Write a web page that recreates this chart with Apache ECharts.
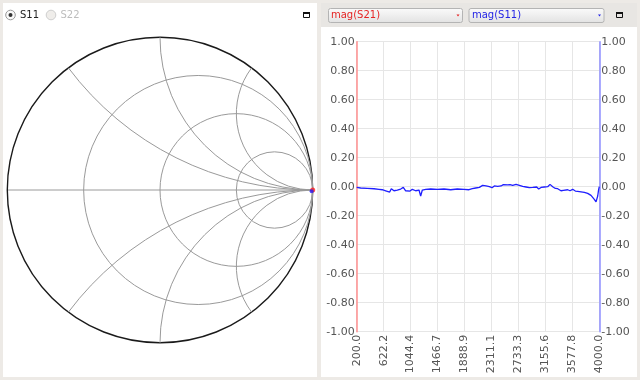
<!DOCTYPE html>
<html>
<head>
<meta charset="utf-8">
<script src="https://cdn.jsdelivr.net/npm/echarts@6/dist/echarts.min.js"></script>
<style>
html,body{margin:0;padding:0;background:#edeae6;}
#c{width:640px;height:380px;}
</style>
</head>
<body>
<div id="c"></div>
<script>
// ---- data ----
const smithR = [0.3333, 1, 3];          // constant-resistance circles
const smithX = [0.5, 1, 2];             // constant-reactance arcs (both signs)
const s11Start = [[1.0, 0.0]];          // Smith marker (red)
const s11End = [[0.993, -0.008]];       // Smith marker (blue)
const xTicks = [200.0, 622.2, 1044.4, 1466.7, 1888.9, 2311.1, 2733.3, 3155.6, 3577.8, 4000.0];
const freq = [200, 262, 366, 471, 549, 601, 654, 680, 717, 742, 784, 836, 889, 930, 967, 993, 1035, 1071, 1124, 1176, 1202, 1228, 1281, 1359, 1463, 1567, 1672, 1776, 1881, 1959, 2011, 2064, 2121, 2173, 2226, 2278, 2320, 2356, 2408, 2461, 2497, 2528, 2565, 2602, 2643, 2696, 2748, 2800, 2852, 2904, 2957, 2983, 3019, 3051, 3087, 3139, 3192, 3228, 3270, 3312, 3348, 3400, 3437, 3468, 3505, 3541, 3583, 3625, 3661, 3714, 3766, 3818, 3870, 3922, 3949, 3975, 3990, 4000];
const magS11 = [-0.005, -0.009, -0.011, -0.014, -0.018, -0.021, -0.028, -0.018, -0.037, -0.014, -0.028, -0.023, -0.016, -0.005, -0.028, -0.018, -0.030, -0.018, -0.028, -0.023, -0.065, -0.023, -0.018, -0.016, -0.018, -0.016, -0.021, -0.016, -0.018, -0.021, -0.014, -0.009, -0.005, 0.009, 0.005, 0.000, -0.007, 0.005, 0.002, 0.005, 0.014, 0.005, 0.012, 0.014, 0.009, 0.016, 0.009, 0.002, -0.002, -0.007, -0.005, -0.014, -0.002, -0.016, -0.005, -0.002, 0.000, 0.016, 0.000, -0.012, -0.014, -0.028, -0.025, -0.032, -0.021, -0.028, -0.018, -0.030, -0.032, -0.035, -0.039, -0.046, -0.060, -0.087, -0.105, -0.064, -0.018, 0.000];
const yLabelsMin = -1, yLabelsMax = 1, yStep = 0.2;

const FONT = 'DejaVu Sans';
const GRIDC = '#9a9a9a';

function rItem(params, api) {
  const r = api.value(0);
  const c = api.coord([r / (1 + r), 0]);
  const rad = api.size([1 / (1 + r), 0])[0];
  return {type: 'circle', shape: {cx: c[0], cy: c[1], r: rad},
    style: {fill: 'none', stroke: GRIDC, lineWidth: 1}};
}
function xItem(params, api) {
  const x = api.value(0), s = api.value(1);
  const C = api.coord([1, s / x]);
  const rad = api.size([1 / x, 0])[0];
  const P = api.coord([(x * x - 1) / (x * x + 1), s * 2 * x / (x * x + 1)]);
  const E = api.coord([1, 0]);
  const a1 = Math.atan2(P[1] - C[1], P[0] - C[0]);
  const a2 = Math.atan2(E[1] - C[1], E[0] - C[0]);
  let d = a2 - a1;
  while (d > Math.PI) d -= 2 * Math.PI;
  while (d < -Math.PI) d += 2 * Math.PI;
  return {type: 'arc', shape: {cx: C[0], cy: C[1], r: rad, startAngle: a1, endAngle: a1 + d, clockwise: d > 0},
    style: {fill: 'none', stroke: GRIDC, lineWidth: 1}};
}
function outerItem(params, api) {
  const c = api.coord([0, 0]);
  const rad = api.size([1, 0])[0];
  return {type: 'group', children: [
    {type: 'line', shape: {x1: c[0] - rad, y1: c[1], x2: c[0] + rad, y2: c[1]}, style: {stroke: GRIDC, lineWidth: 1}},
    {type: 'circle', shape: {cx: c[0], cy: c[1], r: rad}, style: {fill: 'none', stroke: '#1a1a1a', lineWidth: 1.4}}
  ]};
}

const xData = [];
smithX.forEach(x => { xData.push([x, 1]); xData.push([x, -1]); });

function comboGrad() {
  return new echarts.graphic.LinearGradient(0, 0, 0, 1, [{offset: 0, color: '#fbfbfb'}, {offset: 1, color: '#e2e2e2'}]);
}

const chart = echarts.init(document.getElementById('c'), null, {renderer: 'canvas'});
chart.setOption({
  backgroundColor: '#edeae6',
  animation: false,
  graphic: {elements: [
    {type: 'rect', z: -100, shape: {x: 3, y: 3, width: 314, height: 374}, style: {fill: '#ffffff'}},
    {type: 'rect', z: -100, shape: {x: 321, y: 3, width: 316, height: 24}, style: {fill: '#e8e6e3'}},
    {type: 'rect', z: -100, shape: {x: 321, y: 27, width: 316, height: 350}, style: {fill: '#ffffff'}},
    // radio S11
    {type: 'circle', shape: {cx: 10.5, cy: 15, r: 4.8}, style: {fill: '#fafafa', stroke: '#999', lineWidth: 1}},
    {type: 'circle', shape: {cx: 10.5, cy: 15, r: 2}, style: {fill: '#333'}},
    {type: 'text', x: 20, y: 15.5, style: {text: 'S11', fill: '#222', font: '10px ' + FONT, verticalAlign: 'middle'}},
    // radio S22
    {type: 'circle', shape: {cx: 51, cy: 15, r: 4.8}, style: {fill: '#efedea', stroke: '#cfcfcf', lineWidth: 1}},
    {type: 'text', x: 60.5, y: 15.5, style: {text: 'S22', fill: '#bdbdbd', font: '10px ' + FONT, verticalAlign: 'middle'}},
    // left maximize icon
    {type: 'rect', shape: {x: 303.5, y: 12.5, width: 6, height: 5}, style: {fill: 'none', stroke: '#111', lineWidth: 1}},
    {type: 'rect', shape: {x: 303, y: 12, width: 7, height: 2}, style: {fill: '#111'}},
    // combo 1
    {type: 'rect', shape: {x: 328.5, y: 8.5, width: 134, height: 14, r: 2}, style: {fill: comboGrad(), stroke: '#b4b4b4', lineWidth: 1}},
    {type: 'text', x: 331, y: 15.5, style: {text: 'mag(S21)', fill: '#e52424', font: '10px ' + FONT, verticalAlign: 'middle'}},
    {type: 'polygon', shape: {points: [[456.5, 14.5], [459.5, 14.5], [458, 16.5]]}, style: {fill: '#e52424'}},
    // combo 2
    {type: 'rect', shape: {x: 469, y: 8.5, width: 135, height: 14, r: 2}, style: {fill: comboGrad(), stroke: '#b4b4b4', lineWidth: 1}},
    {type: 'text', x: 472, y: 15.5, style: {text: 'mag(S11)', fill: '#2424e5', font: '10px ' + FONT, verticalAlign: 'middle'}},
    {type: 'polygon', shape: {points: [[598, 14.5], [601, 14.5], [599.5, 16.5]]}, style: {fill: '#2424e5'}},
    // right maximize icon
    {type: 'rect', shape: {x: 616.5, y: 12.5, width: 6, height: 5}, style: {fill: 'none', stroke: '#111', lineWidth: 1}},
    {type: 'rect', shape: {x: 616, y: 12, width: 7, height: 2}, style: {fill: '#111'}}
  ]},
  grid: [
    {left: 7.3, top: 37.3, width: 305.4, height: 305.4, containLabel: false},
    {left: 356.7, top: 41.7, width: 242.6, height: 290, containLabel: false}
  ],
  xAxis: [
    {gridIndex: 0, type: 'value', min: -1, max: 1, show: false},
    {gridIndex: 1, type: 'value', min: 200, max: 4000,
      axisLine: {show: false}, axisTick: {show: false, customValues: xTicks},
      splitLine: {show: true, lineStyle: {color: '#e6e6e6', width: 1}},
      axisLabel: {customValues: xTicks, rotate: 90, margin: 3, color: '#555', fontFamily: FONT, fontSize: 11,
        formatter: v => Number(v).toFixed(1)}}
  ],
  yAxis: [
    {gridIndex: 0, type: 'value', min: -1, max: 1, show: false},
    {gridIndex: 1, type: 'value', min: yLabelsMin, max: yLabelsMax, interval: yStep, position: 'left',
      axisLine: {show: true, lineStyle: {color: '#ff8f8f', width: 1.5}}, axisTick: {show: false},
      splitLine: {show: true, lineStyle: {color: '#e6e6e6', width: 1}},
      axisLabel: {margin: 2, color: '#555', fontFamily: FONT, fontSize: 11, formatter: v => v.toFixed(2)}},
    {gridIndex: 1, type: 'value', min: yLabelsMin, max: yLabelsMax, interval: yStep, position: 'right',
      axisLine: {show: true, lineStyle: {color: '#8f8fff', width: 1.5}}, axisTick: {show: false},
      splitLine: {show: false},
      axisLabel: {margin: 2, color: '#555', fontFamily: FONT, fontSize: 11, formatter: v => v.toFixed(2)}}
  ],
  series: [
    {type: 'custom', xAxisIndex: 0, yAxisIndex: 0, data: [[0]], renderItem: outerItem, silent: true},
    {type: 'custom', xAxisIndex: 0, yAxisIndex: 0, data: smithR.map(r => [r]), renderItem: rItem, silent: true},
    {type: 'custom', xAxisIndex: 0, yAxisIndex: 0, data: xData, renderItem: xItem, silent: true},
    {type: 'scatter', xAxisIndex: 0, yAxisIndex: 0, data: s11Start, symbolSize: 5, itemStyle: {color: '#ff2020'}, z: 5},
    {type: 'scatter', xAxisIndex: 0, yAxisIndex: 0, data: s11End, symbolSize: 4, itemStyle: {color: '#2020ff'}, z: 6},
    {type: 'line', xAxisIndex: 1, yAxisIndex: 2, data: freq.map((f, i) => [f, magS11[i]]),
      showSymbol: false, lineStyle: {color: '#1f1fff', width: 1.3}, z: 4}
  ]
});
</script>
</body>
</html>
